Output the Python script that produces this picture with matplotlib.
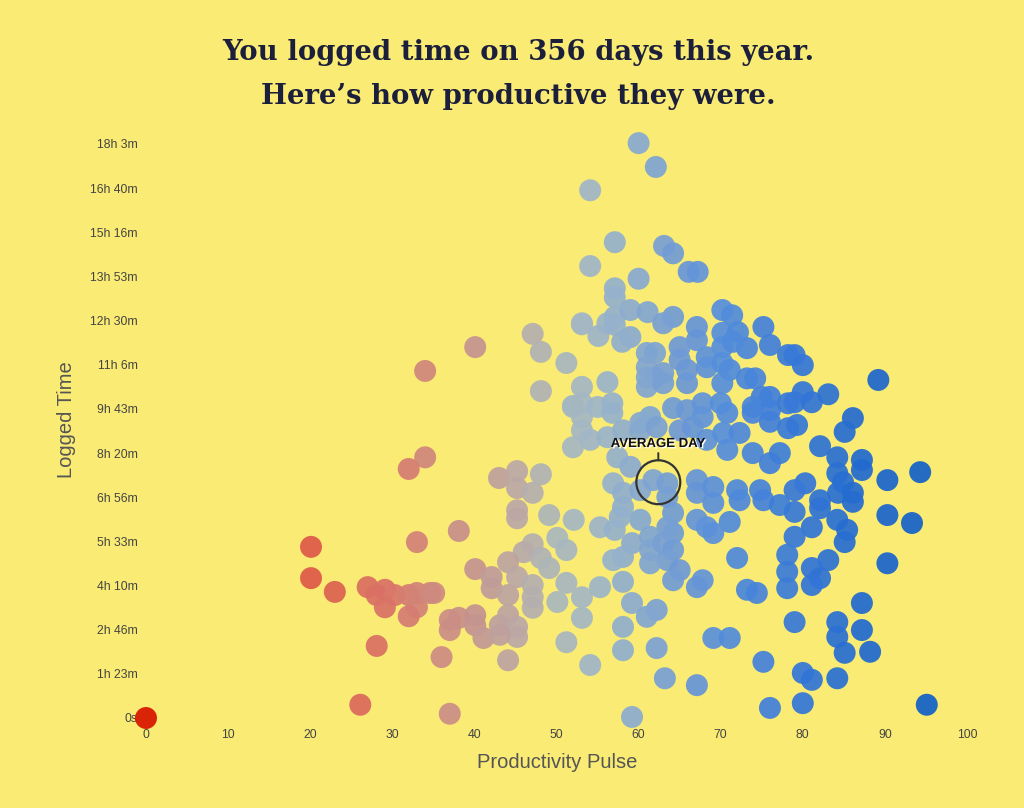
import numpy as np
import matplotlib
matplotlib.use("Agg")
import matplotlib.pyplot as plt
import matplotlib.patheffects as pe
from matplotlib.colors import LinearSegmentedColormap

# productivity pulse (0-100) and logged minutes for each day
pulse = [
    0, 20.1, 20.1, 23, 27, 29.1, 28.1, 30.3, 29.1, 32, 33, 33, 32, 34.6, 28.1, 26.1, 34, 34, 32, 33,
    40.1, 47.1, 48.1, 51.2, 48.1, 53.1, 53.1, 52, 53.1, 53.1, 52, 54.1, 43, 45.2, 45.2, 47.1, 48.1,
    45.2, 45.2, 49.1, 52.1, 55.3, 38.1, 47.1, 46, 50.1, 51.2, 48.1, 49.1, 44.1, 40.1, 42.1, 45.2,
    42.1, 44.1, 47.1, 47.1, 47.1, 51.2, 50.1, 53.1, 53.1, 55.3, 40.1, 38.1, 37, 37, 40.1, 41.1,
    43.1, 44.1, 45.2, 45.2, 43.1, 35.1, 36, 44.1, 51.2, 54.1, 37,
    60, 62.1, 54.1, 57.1, 63.1, 64.2, 54.1, 66.1, 67.2, 60, 57.1, 57.1, 53.1, 55.1, 56.2, 57.1,
    57.1, 59, 59, 58, 61.1, 64.2, 63, 67.1, 67.1, 70.2, 71.4, 70.2, 72.1, 75.2, 76, 73.2, 70.2,
    71.5, 61, 62, 61, 62, 61, 61, 63, 63, 65, 65, 65.9, 65.9, 68.3, 68.3, 70.2, 71.1, 70.2, 73.2,
    74.2, 75, 76, 73.9, 76, 78.2, 78.2, 56.2, 53.1, 52, 55, 56.8, 56.8, 64.2, 65.9, 67.8, 67.8,
    70, 70.8, 61.4, 60.2,
    56.2, 58.1, 60.2, 62.2, 65, 66.6, 68.3, 70.3, 70.8, 72.3, 73.9, 76, 77.2, 57.4, 59, 56.9,
    58.1, 58.1, 60.2, 61.8, 63.5, 63.5, 67.1, 67.1, 69.1, 69.1, 72, 72.3, 74.8, 75.2, 77.2, 71.1,
    67.1, 68.3, 69.1, 64.2, 64.2, 63.5, 60.2, 57.7, 57.1, 59.2, 61.4, 61.4, 63, 64.2, 63.5, 61.4,
    58.1, 56.9, 65, 64.2, 67.8, 67.1, 58.1, 59.2, 62.2, 61, 58.1, 58.1, 62.2, 63.2, 67.1, 59.2,
    69.1, 71.1, 72, 73.2, 74.4, 75.2, 76,
    79, 80, 89.2, 80, 79, 81.1, 83.1, 73.9, 76, 78.2, 79.3, 86.1, 85.1, 82.1, 84.2, 87.2, 87.2,
    84.2, 84.9, 90.3, 94.3, 80.3, 79, 82.1, 84.3, 86.1, 86.1, 79, 82.1, 81.1, 84.2, 85.4, 85.1,
    90.3, 93.3, 79, 78.1, 83.1, 81.1, 78.1, 82.1, 81.1, 78.1, 90.3, 87.2, 79, 84.2, 84.2, 87.2,
    85.1, 88.2, 80, 81.1, 84.2, 80, 95.1,
]
logged_min = [
    0, 323, 264, 238, 247, 242, 232, 232, 209, 232, 236, 209, 192, 236, 136, 25, 655, 492, 470, 332,
    700, 725, 691, 670, 617, 743, 625, 589, 568, 543, 511, 525, 453, 466, 434, 425, 460,
    392, 377, 383, 374, 360, 353, 328, 313, 340, 317, 302, 283, 294, 281, 266, 266,
    245, 232, 251, 228, 208, 255, 219, 228, 189, 247, 194, 189, 185, 166, 175, 151,
    175, 194, 172, 153, 157, 236, 115, 109, 143, 100, 8,
    1085, 1040, 996, 898, 891, 877, 853, 842, 842, 829, 811, 794, 745, 721, 745, 757,
    742, 770, 719, 710, 766, 757, 745, 738, 713, 770, 760, 727, 728, 738, 704, 698, 700,
    710, 689, 689, 662, 643, 643, 625, 651, 632, 700, 676, 657, 632, 681, 662, 670, 657, 632, 641,
    641, 606, 606, 587, 581, 685, 594, 634, 594, 587, 587, 594, 576, 585, 581, 594, 568,
    594, 576, 568, 557,
    530, 543, 543, 549, 543, 549, 525, 538, 506, 538, 500, 481, 500, 492, 474, 443,
    425, 398, 430, 449, 443, 417, 449, 425, 436, 406, 430, 411, 430, 411, 402, 370,
    374, 360, 349, 387, 349, 360, 374, 379, 355, 330, 342, 317, 330, 317, 298, 292,
    304, 298, 279, 260, 260, 247, 257, 217, 204, 191, 172, 128, 132, 75, 62, 2,
    151, 151, 302, 242, 236, 106, 19,
    685, 666, 638, 615, 596, 596, 611, 576, 559, 547, 553, 566, 540, 513, 492, 487, 468,
    462, 445, 449, 464, 443, 430, 411, 425, 425, 408, 389, 396, 360, 374, 355, 332,
    383, 368, 342, 308, 298, 283, 276, 264, 251, 245, 292, 217, 181, 181, 153, 166,
    123, 125, 85, 72, 75, 28, 25,
]

avg_pulse = 62.4
avg_min = 445

y_max = 65000 / 60  # 18h 3m 20s
x_ticks = [0, 10, 20, 30, 40, 50, 60, 70, 80, 90, 100]
y_tick_labels = ["0s", "1h 23m", "2h 46m", "4h 10m", "5h 33m", "6h 56m", "8h 20m",
                 "9h 43m", "11h 6m", "12h 30m", "13h 53m", "15h 16m", "16h 40m", "18h 3m"]

bg = "#f9eb74"
stops = [(0.0, "#d81500"), (0.20, "#dd5a48"), (0.30, "#d9766a"), (0.35, "#cf8a80"),
         (0.40, "#c49490"), (0.45, "#bba8a6"), (0.50, "#aab8bb"), (0.55, "#9fb6c9"),
         (0.60, "#88aad0"), (0.65, "#6f9ad6"), (0.70, "#568fdc"), (0.80, "#3577d8"),
         (0.90, "#1c66cc"), (1.0, "#0a5ac4")]
cmap = LinearSegmentedColormap.from_list("pulse", stops)

fig = plt.figure(figsize=(10.24, 8.08), dpi=100, facecolor=bg)
ax = fig.add_axes([146 / 1024, 1 - 718 / 808, (967 - 146) / 1024, 574 / 808])
ax.set_facecolor(bg)

ax.scatter(pulse, logged_min, c=pulse, cmap=cmap, vmin=0, vmax=100, s=250,
           linewidths=0, alpha=0.93, clip_on=False, zorder=2)

# average day: ring, short tick and label
ax.scatter([avg_pulse], [avg_min], s=1000, facecolors="none", edgecolors="#333333",
           linewidths=1.6, zorder=4, clip_on=False)
ax.annotate("", xy=(avg_pulse, avg_min), xycoords="data",
            xytext=(0, 21.0), textcoords="offset points",
            arrowprops=dict(arrowstyle="-", color="#333333", lw=1.4, shrinkA=0, shrinkB=15.8))
ax.annotate("AVERAGE DAY", xy=(avg_pulse, avg_min), xytext=(0, 27.5),
            textcoords="offset points", ha="center", va="center",
            fontsize=9.5, fontweight="bold", color="#111111", family="Liberation Sans",
            zorder=5,
            path_effects=[pe.withSimplePatchShadow(offset=(1, -1), shadow_rgbFace="white",
                                                   alpha=1.0)])

ax.set_xlim(0, 100)
ax.set_ylim(0, y_max)
ax.set_xticks(x_ticks)
ax.set_xticklabels([str(t) for t in x_ticks])
ax.set_yticks(np.arange(len(y_tick_labels)) * y_max / 13)
ax.set_yticklabels(y_tick_labels)
for s in ax.spines.values():
    s.set_visible(False)
ax.tick_params(length=0, labelsize=8.8, labelcolor="#444444")
ax.tick_params(axis="y", pad=6)
ax.tick_params(axis="x", pad=8)
for lab in ax.get_xticklabels() + ax.get_yticklabels():
    lab.set_family("Liberation Sans")

fig.text(557 / 1024, 1 - 763 / 808, "Productivity Pulse", ha="center", va="center",
         fontsize=14.5, color="#555555", family="Liberation Sans")
fig.text(67 / 1024, 1 - 420 / 808, "Logged Time", ha="center", va="center", rotation=90,
         fontsize=14.5, color="#555555", family="Liberation Sans")

fig.text(518 / 1024, 1 - 52 / 808, "You logged time on 356 days this year.", ha="center",
         va="center", fontsize=19.8, fontweight="bold", color="#1b1f3b", family="DejaVu Serif")
fig.text(518 / 1024, 1 - 97 / 808, "Here\u2019s how productive they were.", ha="center",
         va="center", fontsize=19.8, fontweight="bold", color="#1b1f3b", family="DejaVu Serif")

fig.savefig("out.png", dpi=100, facecolor=bg)
